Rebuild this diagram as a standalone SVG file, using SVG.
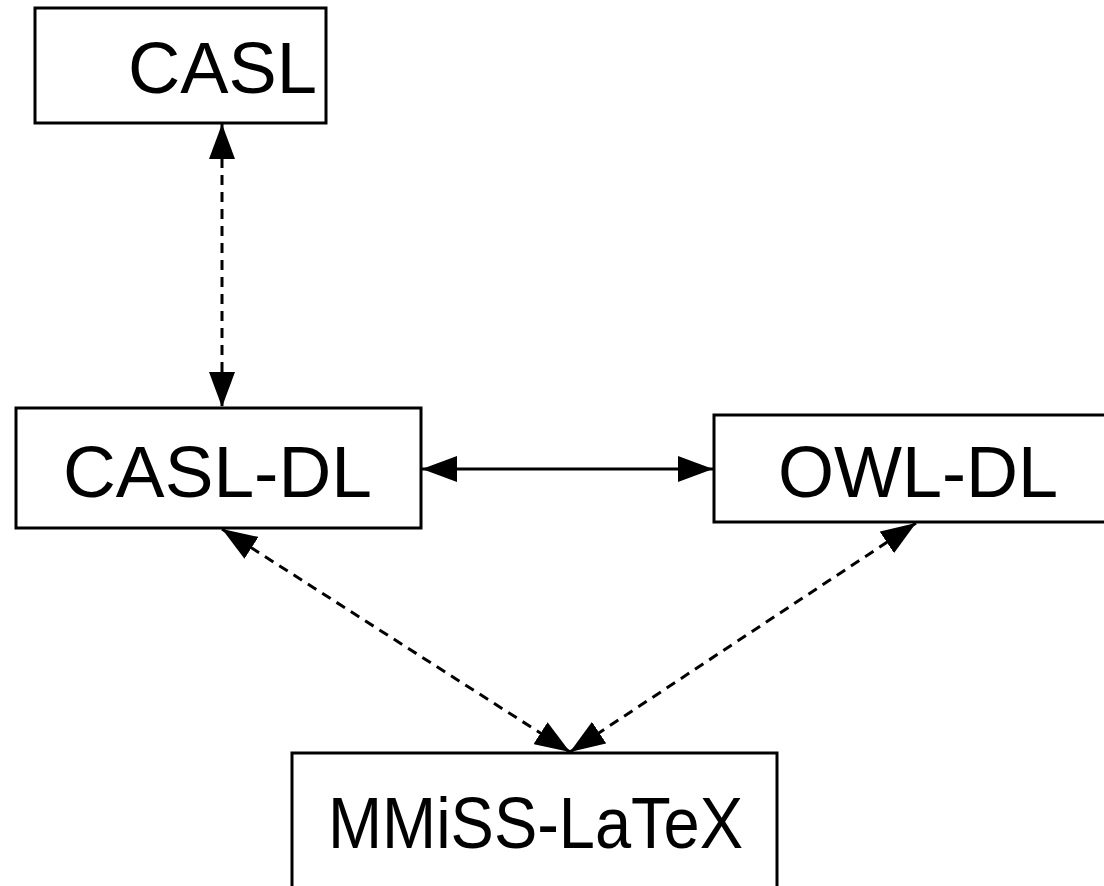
<svg xmlns="http://www.w3.org/2000/svg" width="1104" height="886" viewBox="0 0 1104 886">
<style>
.box{fill:#fff;stroke:#000;stroke-width:3}
.lbl{font-family:"Liberation Sans",Arial,sans-serif;font-size:72px;fill:#000}
.c{stroke:#000;stroke-width:3;fill:none}
.d{stroke-dasharray:10 7}
</style>
<defs>
<marker id="ah" viewBox="0 0 35 26" refX="35" refY="13" markerWidth="35" markerHeight="26" markerUnits="userSpaceOnUse" orient="auto-start-reverse">
<path d="M0,0 L35,13 L0,26 Z" fill="#000"/>
</marker>
</defs>
<rect width="1104" height="886" fill="#fff"/>
<g id="connectors">
<line class="c d" x1="222" y1="124" x2="222" y2="407" marker-start="url(#ah)" marker-end="url(#ah)"/>
<line class="c" x1="422" y1="469" x2="713" y2="469" marker-start="url(#ah)" marker-end="url(#ah)"/>
<line class="c d" x1="222" y1="529" x2="570" y2="752" marker-start="url(#ah)" marker-end="url(#ah)"/>
<line class="c d" x1="916" y1="523" x2="570" y2="752" marker-start="url(#ah)" marker-end="url(#ah)"/>
</g>
<g id="casl">
<rect class="box" x="35" y="8" width="291" height="115"/>
<text class="lbl" x="128" y="93" textLength="189" lengthAdjust="spacingAndGlyphs">CASL</text>
</g>
<g id="casl-dl">
<rect class="box" x="16" y="408" width="405" height="120"/>
<text class="lbl" x="63" y="497" textLength="309" lengthAdjust="spacingAndGlyphs">CASL-DL</text>
</g>
<g id="owl-dl">
<rect class="box" x="714" y="415" width="400" height="107"/>
<text class="lbl" x="778" y="497" textLength="280" lengthAdjust="spacingAndGlyphs">OWL-DL</text>
</g>
<g id="mmiss-latex">
<rect class="box" x="292" y="753" width="485" height="150"/>
<text class="lbl" x="328" y="848" textLength="415" lengthAdjust="spacingAndGlyphs">MMiSS-LaTeX</text>
</g>
</svg>
